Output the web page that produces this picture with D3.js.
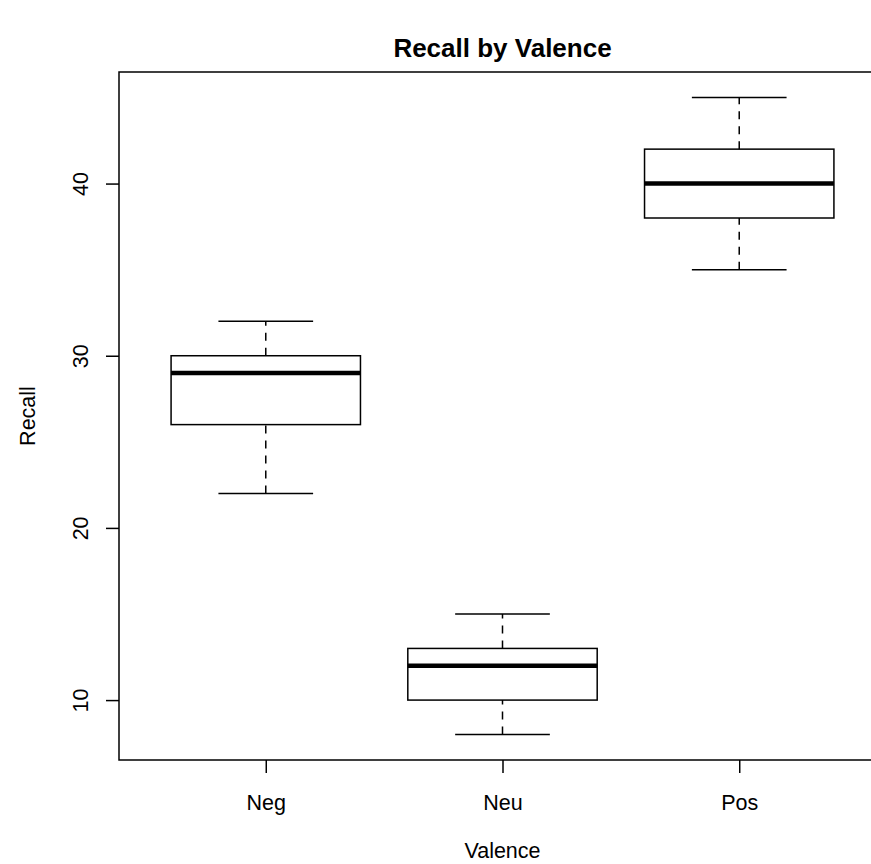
<!DOCTYPE html>
<html>
<head>
<meta charset="utf-8">
<script src="https://cdn.jsdelivr.net/npm/d3@7"></script>
<style>
  html, body { margin: 0; padding: 0; background: #fff; }
  svg { display: block; font-family: "Liberation Sans", Arial, Helvetica, sans-serif; }
</style>
</head>
<body>
<svg id="chart" width="871" height="864"></svg>
<script>
// ---- data ----
const categories = ["Neg", "Neu", "Pos"];
const lowerWhisker = [22, 8, 35];
const q1 = [26, 10, 38];
const median = [29, 12, 40];
const q3 = [30, 13, 42];
const upperWhisker = [32, 15, 45];
const yTicks = [10, 20, 30, 40];
const titleText = "Recall by Valence";
const xLabel = "Valence";
const yLabel = "Recall";

(function () {
const data = categories.map((c, i) => ({
  cat: c, pos: i + 1, lo: lowerWhisker[i], q1: q1[i], med: median[i], q3: q3[i], hi: upperWhisker[i]
}));

const svg = d3.select("#chart");
const pLeft = 119, pRight = 886, pTop = 72, pBottom = 760;

const x = d3.scaleLinear().domain([0.38, 3.62]).range([pLeft, pRight]);
const y = d3.scaleLinear().domain([6.52, 46.48]).range([pBottom, pTop]);

const boxHalf = 0.4, capHalf = 0.2;

const g = svg.append("g");

// whiskers (dashed)
g.selectAll("line.wlo").data(data).enter().append("line")
  .attr("x1", d => x(d.pos)).attr("x2", d => x(d.pos))
  .attr("y1", d => y(d.lo)).attr("y2", d => y(d.q1))
  .attr("stroke", "#000").attr("stroke-width", 1.5).attr("stroke-dasharray", "8,7");
g.selectAll("line.whi").data(data).enter().append("line")
  .attr("x1", d => x(d.pos)).attr("x2", d => x(d.pos))
  .attr("y1", d => y(d.q3)).attr("y2", d => y(d.hi))
  .attr("stroke", "#000").attr("stroke-width", 1.5).attr("stroke-dasharray", "8,7");
// caps
g.selectAll("line.clo").data(data).enter().append("line")
  .attr("x1", d => x(d.pos - capHalf)).attr("x2", d => x(d.pos + capHalf))
  .attr("y1", d => y(d.lo)).attr("y2", d => y(d.lo))
  .attr("stroke", "#000").attr("stroke-width", 1.5);
g.selectAll("line.chi").data(data).enter().append("line")
  .attr("x1", d => x(d.pos - capHalf)).attr("x2", d => x(d.pos + capHalf))
  .attr("y1", d => y(d.hi)).attr("y2", d => y(d.hi))
  .attr("stroke", "#000").attr("stroke-width", 1.5);
// boxes
g.selectAll("rect.box").data(data).enter().append("rect")
  .attr("x", d => x(d.pos - boxHalf)).attr("width", d => x(d.pos + boxHalf) - x(d.pos - boxHalf))
  .attr("y", d => y(d.q3)).attr("height", d => y(d.q1) - y(d.q3))
  .attr("fill", "none").attr("stroke", "#000").attr("stroke-width", 1.5);
// medians
g.selectAll("line.med").data(data).enter().append("line")
  .attr("x1", d => x(d.pos - boxHalf)).attr("x2", d => x(d.pos + boxHalf))
  .attr("y1", d => y(d.med)).attr("y2", d => y(d.med))
  .attr("stroke", "#000").attr("stroke-width", 4.5);

// frame
svg.append("rect").attr("x", pLeft).attr("y", pTop).attr("width", pRight - pLeft).attr("height", pBottom - pTop)
  .attr("fill", "none").attr("stroke", "#000").attr("stroke-width", 1.5);

// axes
const fs = 21.5;
const yAxis = d3.axisLeft(y).tickValues(yTicks).tickSize(13).tickFormat(d3.format("d"));
const ya = svg.append("g").attr("transform", `translate(${pLeft},0)`).call(yAxis);
ya.select(".domain").remove();
ya.selectAll(".tick line").attr("stroke", "#000").attr("stroke-width", 1.5);
ya.selectAll(".tick text")
  .attr("x", null).attr("dy", null)
  .attr("transform", "translate(-31,0) rotate(-90)")
  .attr("text-anchor", "middle")
  .attr("font-size", fs).attr("font-family", "Liberation Sans, Arial, sans-serif").attr("fill", "#000");

const xAxis = d3.axisBottom(x).tickValues(data.map(d => d.pos)).tickSize(13)
  .tickFormat((d, i) => categories[i]);
const xa = svg.append("g").attr("transform", `translate(0,${pBottom})`).call(xAxis);
xa.select(".domain").remove();
xa.selectAll(".tick line").attr("stroke", "#000").attr("stroke-width", 1.5);
xa.selectAll(".tick text")
  .attr("y", 50).attr("dy", null)
  .attr("font-size", fs).attr("font-family", "Liberation Sans, Arial, sans-serif").attr("fill", "#000");

// labels
const cx = (pLeft + pRight) / 2;
svg.append("text").attr("x", cx).attr("y", 57).attr("text-anchor", "middle")
  .attr("font-size", 26).attr("font-weight", "bold").text(titleText);
svg.append("text").attr("x", cx).attr("y", 858).attr("text-anchor", "middle")
  .attr("font-size", fs).text(xLabel);
svg.append("text").attr("transform", `translate(35,${(pTop + pBottom) / 2}) rotate(-90)`)
  .attr("text-anchor", "middle").attr("font-size", fs).text(yLabel);
})();
</script>
</body>
</html>
